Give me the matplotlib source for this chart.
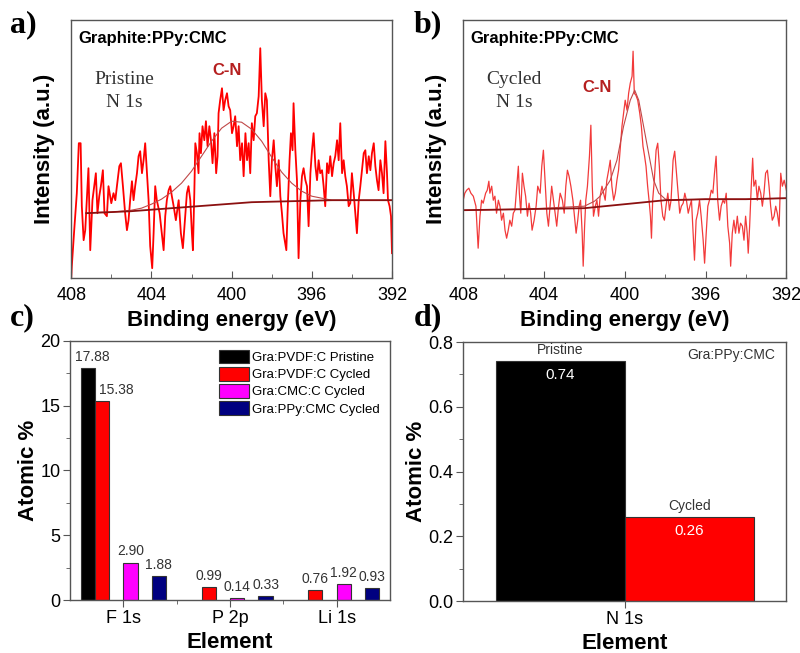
import numpy as np
import matplotlib
matplotlib.use('Agg')
import matplotlib.pyplot as plt
from matplotlib.ticker import MultipleLocator, FixedLocator

plt.rcParams['font.family'] = ['Liberation Sans', 'DejaVu Sans']

# ---- N 1s spectrum, pristine (panel a) ----
energy_a = [408.00, 407.97, 407.85, 407.72, 407.62, 407.53, 407.47, 407.38, 407.30, 407.22,
            407.14, 407.05, 406.94, 406.85, 406.77, 406.69, 406.60, 406.52, 406.42, 406.34,
            406.22, 406.14, 406.00, 405.89, 405.80, 405.72, 405.60, 405.52, 405.42, 405.31,
            405.22, 405.14, 405.06, 404.97, 404.89, 404.81, 404.72, 404.64, 404.56, 404.47,
            404.39, 404.31, 404.22, 404.14, 404.06, 403.96, 403.89, 403.81, 403.73, 403.59,
            403.48, 403.39, 403.31, 403.23, 403.14, 403.06, 402.98, 402.89, 402.78, 402.64,
            402.53, 402.43, 402.35, 402.23, 402.15, 402.06, 401.98, 401.93, 401.86, 401.81,
            401.73, 401.65, 401.60, 401.53, 401.45, 401.36, 401.28, 401.20, 401.11, 401.03,
            400.95, 400.86, 400.77, 400.70, 400.65, 400.57, 400.48, 400.40, 400.32, 400.23,
            400.15, 400.07, 399.98, 399.90, 399.82, 399.73, 399.65, 399.57, 399.48, 399.40,
            399.31, 399.23, 399.15, 399.07, 398.99, 398.90, 398.82, 398.74, 398.65, 398.57,
            398.49, 398.40, 398.32, 398.24, 398.15, 398.07, 397.99, 397.90, 397.82, 397.74,
            397.65, 397.57, 397.49, 397.41, 397.27, 397.21, 397.11, 397.04, 396.96, 396.91,
            396.82, 396.74, 396.66, 396.57, 396.49, 396.41, 396.32, 396.24, 396.16, 396.07,
            395.99, 395.91, 395.82, 395.74, 395.66, 395.58, 395.49, 395.41, 395.33, 395.24,
            395.16, 395.08, 394.99, 394.91, 394.83, 394.74, 394.66, 394.58, 394.49, 394.41,
            394.33, 394.25, 394.16, 394.08, 394.00, 393.91, 393.83, 393.75, 393.66, 393.58,
            393.50, 393.41, 393.33, 393.25, 393.16, 393.08, 393.00, 392.91, 392.83, 392.75,
            392.67, 392.58, 392.50, 392.42, 392.33, 392.25, 392.20, 392.12, 392.05, 392.00]
counts_a = [0, 12, 48, 85, 135, 135, 72, 38, 48, 78,
            110, 28, 78, 92, 105, 65, 82, 92, 108, 65,
            62, 92, 75, 85, 78, 92, 112, 115, 92, 65,
            48, 58, 78, 97, 78, 92, 105, 122, 127, 105,
            118, 135, 105, 78, 32, 10, 45, 92, 78, 65,
            45, 28, 62, 78, 88, 92, 82, 72, 58, 78,
            45, 30, 52, 85, 92, 78, 45, 28, 85, 135,
            125, 105, 145, 125, 152, 138, 157, 132, 152, 138,
            115, 145, 105, 122, 165, 178, 190, 168, 178, 185,
            172, 168, 145, 152, 162, 132, 152, 118, 135, 102,
            145, 118, 135, 105, 155, 138, 162, 165, 182, 230,
            178, 152, 185, 178, 118, 82, 118, 138, 112, 92,
            118, 82, 65, 45, 28, 65, 118, 145, 128, 175,
            128, 98, 20, 78, 102, 110, 98, 92, 52, 105,
            128, 145, 112, 98, 118, 105, 108, 92, 72, 115,
            105, 122, 102, 115, 122, 138, 118, 155, 105, 118,
            102, 92, 72, 75, 105, 85, 65, 45, 78, 92,
            108, 125, 128, 105, 122, 108, 125, 135, 112, 98,
            88, 118, 105, 85, 137, 105, 78, 72, 62, 25]
fit_e_a = [407.25, 406.5, 406.0, 405.5, 405.0, 404.5, 404.0, 403.5, 403.0, 402.5, 402.0,
           401.5, 401.0, 400.5, 400.0, 399.5, 399.0, 398.5, 398.0, 397.5, 397.0, 396.5,
           396.0, 395.5, 395.0, 394.0, 392.0]
fit_a = [65, 66, 66, 67, 68, 70, 74, 79, 86, 95, 107,
         122, 137, 150, 157, 156, 149, 137, 121, 106, 95, 87,
         82, 80, 78, 78, 78]
base_e_a = [407.25, 405.0, 403.0, 401.0, 399.0, 397.0, 395.0, 392.0]
base_a = [65, 67, 70, 73, 76, 77, 78, 78]

# ---- N 1s spectrum, cycled (panel b) ----
energy_b = [408.00, 407.92, 407.83, 407.72, 407.62, 407.50, 407.37, 407.26, 407.17, 407.09,
            407.01, 406.89, 406.81, 406.73, 406.68, 406.59, 406.51, 406.43, 406.35, 406.26,
            406.18, 406.10, 406.01, 405.93, 405.85, 405.77, 405.69, 405.60, 405.52, 405.44,
            405.35, 405.27, 405.22, 405.15, 405.07, 404.99, 404.91, 404.82, 404.74, 404.66,
            404.59, 404.49, 404.39, 404.31, 404.19, 404.11, 404.03, 403.95, 403.86, 403.78,
            403.70, 403.62, 403.53, 403.45, 403.37, 403.28, 403.20, 403.09, 403.00, 402.92,
            402.84, 402.76, 402.67, 402.57, 402.49, 402.41, 402.33, 402.26, 402.19, 402.11,
            402.06, 401.99, 401.93, 401.85, 401.75, 401.68, 401.61, 401.55, 401.46, 401.38,
            401.30, 401.22, 401.13, 401.05, 400.97, 400.89, 400.80, 400.72, 400.64, 400.55,
            400.47, 400.39, 400.31, 400.22, 400.14, 400.06, 399.98, 399.89, 399.81, 399.73,
            399.64, 399.59, 399.53, 399.45, 399.36, 399.26, 399.18, 399.10, 399.02, 398.95,
            398.87, 398.80, 398.73, 398.68, 398.62, 398.54, 398.45, 398.37, 398.29, 398.21,
            398.12, 398.04, 397.96, 397.87, 397.79, 397.71, 397.61, 397.53, 397.44, 397.36,
            397.28, 397.20, 397.11, 397.03, 396.95, 396.86, 396.78, 396.70, 396.62, 396.55,
            396.47, 396.39, 396.30, 396.22, 396.12, 396.05, 395.97, 395.89, 395.81, 395.72,
            395.64, 395.56, 395.48, 395.40, 395.31, 395.23, 395.14, 395.06, 394.98, 394.90,
            394.81, 394.76, 394.68, 394.60, 394.52, 394.43, 394.35, 394.27, 394.18, 394.10,
            394.02, 393.94, 393.89, 393.82, 393.74, 393.67, 393.61, 393.52, 393.44, 393.36,
            393.27, 393.19, 393.11, 393.03, 392.94, 392.86, 392.78, 392.70, 392.61, 392.53,
            392.45, 392.36, 392.28, 392.20, 392.11, 392.00]
counts_b = [78, 85, 88, 90, 85, 82, 72, 30, 62, 78,
            75, 85, 88, 97, 85, 92, 78, 82, 65, 78,
            72, 58, 65, 48, 40, 48, 58, 52, 65, 68,
            92, 112, 85, 65, 105, 92, 82, 62, 75, 65,
            48, 58, 72, 92, 85, 112, 128, 98, 65, 52,
            72, 92, 78, 65, 52, 72, 85, 78, 65, 92,
            108, 102, 92, 78, 62, 45, 58, 72, 78, 45,
            12, 52, 78, 92, 122, 153, 92, 62, 72, 78,
            62, 82, 92, 85, 78, 98, 108, 118, 92, 78,
            85, 98, 108, 132, 152, 165, 178, 168, 185, 195,
            202, 227, 185, 183, 178, 165, 152, 132, 122, 112,
            92, 78, 62, 40, 78, 98, 128, 135, 112, 78,
            62, 58, 72, 85, 68, 78, 118, 127, 105, 85,
            65, 72, 75, 85, 78, 65, 72, 78, 45, 18,
            58, 65, 78, 62, 38, 15, 45, 72, 78, 88,
            85, 105, 122, 78, 58, 72, 78, 75, 85, 52,
            35, 12, 45, 58, 45, 62, 45, 55, 52, 38,
            62, 45, 25, 52, 92, 120, 92, 98, 78, 92,
            85, 72, 85, 105, 108, 92, 72, 58, 62, 72,
            65, 52, 105, 92, 98, 88]
fit_e_b = [408.0, 405.0, 402.0, 401.5, 401.22, 400.72, 400.39, 400.06, 399.73, 399.51,
           399.31, 399.07, 398.82, 398.57, 398.32, 397.99, 397.58, 396.0, 394.0, 392.0]
fit_b = [68, 69, 72, 77, 82, 98, 118, 152, 178, 188,
         178, 152, 125, 98, 85, 79, 78, 79, 79, 80]
base_e_b = [408.0, 405.0, 402.0, 400.5, 399.0, 398.0, 396.0, 394.0, 392.0]
base_b = [68, 69, 70, 73, 76, 78, 79, 79, 80]

# ---- atomic % (panel c) ----
elements = ['F 1s', 'P 2p', 'Li 1s']
series_names = ['Gra:PVDF:C Pristine', 'Gra:PVDF:C Cycled', 'Gra:CMC:C Cycled', 'Gra:PPy:CMC Cycled']
pvdf_pristine = [17.88, np.nan, np.nan]
pvdf_cycled = [15.38, 0.99, 0.76]
cmc_cycled = [2.90, 0.14, 1.22]
ppy_cycled = [1.88, 0.33, 0.93]
cmc_cycled_text = ['2.90', '0.14', '1.92']   # as printed on the figure

# ---- N 1s atomic % (panel d) ----
n1s_states = ['Pristine', 'Cycled']
n1s_values = [0.74, 0.26]

fig = plt.figure(figsize=(8, 6.53), dpi=100)
frame_col = '#555555'
serif = ['Liberation Serif', 'DejaVu Serif']


def style_frame(ax):
    for s in ax.spines.values():
        s.set_color(frame_col)
        s.set_linewidth(1.0)


def spectrum_panel(rect, e, c, fe, fc, be, bc, line_col, lw, state, state_xy, cn_xy):
    ax = fig.add_axes(rect)
    ax.plot(e, c, color=line_col, lw=lw)
    ax.plot(fe, fc, color='#c04848', lw=0.8)
    ax.plot(be, bc, color='#8b1010', lw=1.3)
    ax.set_xlim(408, 392)
    ax.set_ylim(0, 258)
    ax.xaxis.set_major_locator(MultipleLocator(4))
    ax.xaxis.set_minor_locator(MultipleLocator(2))
    ax.set_yticks([])
    ax.tick_params(axis='x', which='both', direction='in', top=False, labelsize=13,
                   color=frame_col, pad=6)
    ax.tick_params(axis='x', which='major', length=5)
    ax.tick_params(axis='x', which='minor', length=3)
    ax.set_xlabel('Binding energy (eV)', fontsize=16, fontweight='bold', labelpad=5)
    ax.set_ylabel('Intensity (a.u.)', fontsize=16, fontweight='bold', labelpad=12)
    ax.text(0.022, 0.93, 'Graphite:PPy:CMC', transform=ax.transAxes, fontsize=12,
            fontweight='bold', va='center', ha='left')
    ax.text(state_xy[0], state_xy[1], state + '\nN 1s', transform=ax.transAxes,
            fontsize=14, family=serif, color='#333333', ha='center', va='center',
            linespacing=1.45)
    ax.text(cn_xy[0], cn_xy[1], 'C-N', transform=ax.transAxes, fontsize=12,
            fontweight='bold', color='#b51f1f', ha='center', va='center')
    style_frame(ax)
    return ax


spectrum_panel([0.089, 0.574, 0.401, 0.395], energy_a, counts_a, fit_e_a, fit_a,
               base_e_a, base_a, '#ff0000', 1.3, 'Pristine', (0.165, 0.725), (0.486, 0.806))
spectrum_panel([0.579, 0.574, 0.404, 0.395], energy_b, counts_b, fit_e_b, fit_b,
               base_e_b, base_b, '#f23a3a', 0.9, 'Cycled', (0.158, 0.725), (0.415, 0.74))

# ---- panel c: grouped bars ----
axc = fig.add_axes([0.0875, 0.081, 0.40, 0.397])
xc = np.arange(1, len(elements) + 1)
slot = 0.8 / 6
colors = ['#000000', '#ff0000', '#ff00ff', '#000080']
all_series = [pvdf_pristine, pvdf_cycled, cmc_cycled, ppy_cycled]
slots = [0, 1, 3, 5]
nudge = {(0, 0): 3, (1, 0): 10}   # label shifts (points) used in the figure to avoid overlap
for k, (vals, name, col, s) in enumerate(zip(all_series, series_names, colors, slots)):
    pos = xc - 0.4 + slot * (s + 0.5)
    axc.bar(pos, vals, width=slot, color=col, edgecolor='#333333', linewidth=0.8, label=name)
    for j, (p, v) in enumerate(zip(pos, vals)):
        if np.isnan(v):
            continue
        txt = cmc_cycled_text[j] if k == 2 else '%.2f' % v
        axc.annotate(txt, (p, v), xytext=(nudge.get((k, j), 0), 3), textcoords='offset points',
                     ha='center', va='bottom', fontsize=10, color='#333333')
axc.set_xlim(0.5, 3.5)
axc.set_ylim(0, 20)
axc.set_xticks(xc)
axc.set_xticklabels(elements)
axc.xaxis.set_minor_locator(FixedLocator([1.5, 2.5]))
axc.yaxis.set_major_locator(MultipleLocator(5))
axc.yaxis.set_minor_locator(MultipleLocator(2.5))
axc.tick_params(which='both', direction='out', labelsize=13, color=frame_col, pad=2)
axc.tick_params(which='major', length=5)
axc.tick_params(which='minor', length=3)
axc.set_xlabel('Element', fontsize=16, fontweight='bold', labelpad=4)
axc.set_ylabel('Atomic %', fontsize=16, fontweight='bold', labelpad=1)
axc.legend(loc='upper left', bbox_to_anchor=(0.465, 0.965), frameon=False, fontsize=9.5,
           handlelength=2.3, handleheight=1.2, handletextpad=0.2, labelspacing=0.22,
           borderpad=0, borderaxespad=0)
style_frame(axc)

# ---- panel d: N 1s bars ----
axd = fig.add_axes([0.579, 0.0796, 0.404, 0.3966])
xd = [0.8, 1.2]
axd.bar(xd, n1s_values, width=0.4, color=['#000000', '#ff0000'], edgecolor='#333333',
        linewidth=0.8)
for p, v, name in zip(xd, n1s_values, n1s_states):
    axd.annotate(name, (p, v), xytext=(0, 3), textcoords='offset points',
                 ha='center', va='bottom', fontsize=10, color='#333333')
    axd.annotate('%.2f' % v, (p, v), xytext=(0, -10), textcoords='offset points',
                 ha='center', va='center', fontsize=11, color='white')
axd.text(0.965, 0.95, 'Gra:PPy:CMC', transform=axd.transAxes, fontsize=10,
         color='#333333', ha='right', va='center')
axd.set_xlim(0.5, 1.5)
axd.set_ylim(0, 0.8)
axd.set_xticks([1])
axd.set_xticklabels(['N 1s'])
axd.yaxis.set_major_locator(MultipleLocator(0.2))
axd.yaxis.set_minor_locator(MultipleLocator(0.1))
axd.yaxis.set_major_formatter(matplotlib.ticker.FormatStrFormatter('%.1f'))
axd.tick_params(which='both', direction='out', labelsize=13, color=frame_col, pad=2)
axd.tick_params(which='major', length=5)
axd.tick_params(which='minor', length=3)
axd.set_xlabel('Element', fontsize=16, fontweight='bold', labelpad=4)
axd.set_ylabel('Atomic %', fontsize=16, fontweight='bold', labelpad=1)
style_frame(axd)

# panel letters
for lab, x, y in [('a)', 0.012, 0.962), ('b)', 0.517, 0.962), ('c)', 0.012, 0.513), ('d)', 0.517, 0.513)]:
    fig.text(x, y, lab, fontsize=23, fontweight='bold', family=serif, va='center', ha='left')

fig.savefig('out.png', dpi=100)
